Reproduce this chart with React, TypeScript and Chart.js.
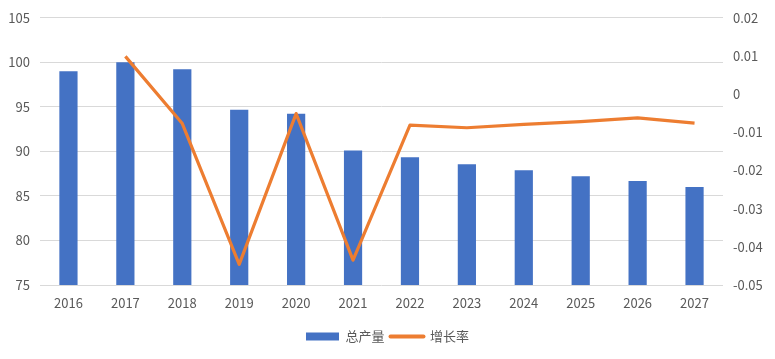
import React, { useEffect, useRef } from "react";
import { Chart, registerables } from "chart.js";

Chart.register(...registerables);

const years = ["2016", "2017", "2018", "2019", "2020", "2021", "2022", "2023", "2024", "2025", "2026", "2027"];
const totalOutput = [99.0, 100.0, 99.22, 94.67, 94.22, 90.11, 89.33, 88.56, 87.89, 87.22, 86.67, 86.0];
const growthRate = [null, 0.0099, -0.0077, -0.0446, -0.0051, -0.0435, -0.0081, -0.0088, -0.0079, -0.0072, -0.0062, -0.0076];
const leftTicks = { min: 75, max: 105, step: 5 };
const rightTicks = { min: -0.05, max: 0.02, step: 0.01 };

const FONT = "'Noto Sans CJK SC', 'Noto Sans', sans-serif";
const TEXT = "#595959";

export default function App() {
  const ref = useRef<HTMLCanvasElement | null>(null);
  useEffect(() => {
    document.body.style.margin = "0";
    const chart = new Chart(ref.current!, {
      type: "bar",
      data: {
        labels: years,
        datasets: [
          {
            type: "line",
            label: "增长率",
            data: growthRate as any,
            yAxisID: "y1",
            borderColor: "#ED7D31",
            backgroundColor: "#ED7D31",
            borderWidth: 3.2,
            pointRadius: 0,
            tension: 0,
            borderJoinStyle: "round",
            borderCapStyle: "butt",
            spanGaps: false,
          } as any,
          {
            type: "bar",
            label: "总产量",
            data: totalOutput,
            yAxisID: "y",
            backgroundColor: "#4472C4",
            categoryPercentage: 1,
            barPercentage: 0.32,
          } as any,
        ],
      },
      options: {
        animation: false,
        responsive: true,
        maintainAspectRatio: false,
        layout: { padding: { top: 13, left: 0, right: 0, bottom: 6 } },
        plugins: {
          tooltip: { enabled: false },
          legend: {
            position: "bottom",
            reverse: true,
            labels: {
              usePointStyle: true,
              pointStyleWidth: 33,
              boxHeight: 8,
              color: TEXT,
              font: { family: FONT, size: 13 },
              padding: 6,
              generateLabels: (c: any) => {
                const items = Chart.defaults.plugins.legend.labels.generateLabels(c);
                return items.map((it: any) => {
                  const ds = c.data.datasets[it.datasetIndex];
                  if (ds.type === "line") {
                    return { ...it, pointStyle: "line", lineWidth: 4, strokeStyle: "#ED7D31", lineCap: "round" };
                  }
                  return { ...it, pointStyle: "rect", lineWidth: 0, fillStyle: "#4472C4", strokeStyle: "#4472C4" };
                });
              },
            },
          },
        },
        scales: {
          x: {
            grid: { display: false },
            border: { display: false },
            ticks: { color: TEXT, font: { family: FONT, size: 13 }, padding: 2, maxRotation: 0 },
            afterFit: (s: any) => { s.height = 39; },
          },
          y: {
            position: "left",
            min: leftTicks.min,
            max: leftTicks.max,
            grid: { color: "#D9D9D9", drawTicks: false, lineWidth: 1 },
            border: { display: false },
            ticks: { stepSize: leftTicks.step, color: TEXT, font: { family: FONT, size: 13 }, padding: 10 },
            afterFit: (s: any) => { s.width = 40; },
          },
          y1: {
            position: "right",
            min: rightTicks.min,
            max: rightTicks.max,
            grid: { display: false, drawTicks: false },
            border: { display: false },
            ticks: {
              stepSize: rightTicks.step,
              color: TEXT,
              font: { family: FONT, size: 13 },
              padding: 10,
              callback: (v: any) => {
                const n = Math.round(Number(v) * 100) / 100;
                return n === 0 ? "0" : String(n);
              },
            },
            afterFit: (s: any) => { s.width = 52; },
          },
        },
      },
    });
    return () => chart.destroy();
  }, []);
  return (
    <div style={{ position: "fixed", left: 0, top: 0, width: 775, height: 359, background: "#fff" }}>
      <canvas ref={ref} />
    </div>
  );
}
